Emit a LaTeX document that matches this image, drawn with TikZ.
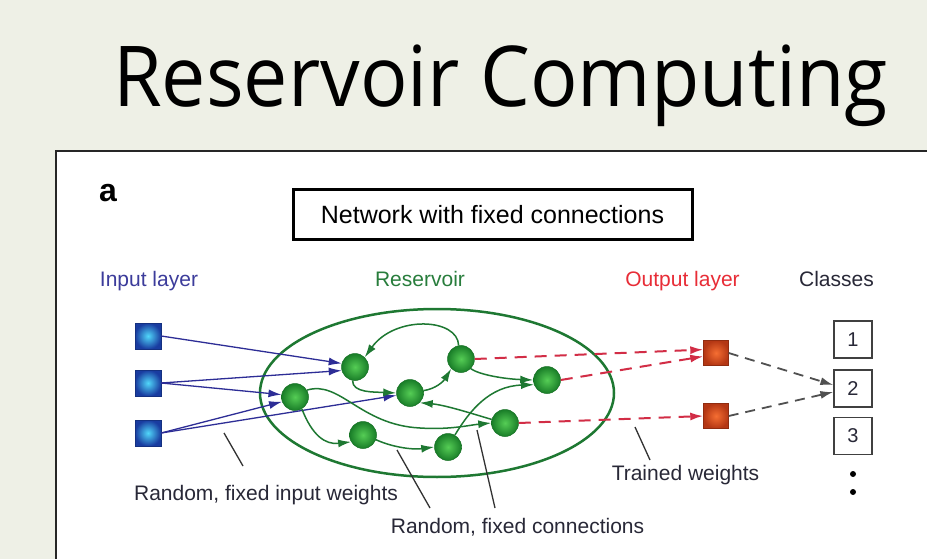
\documentclass[tikz,border=0pt]{standalone}
\usepackage{fontspec}
\setmainfont{Liberation Sans}
\newfontfamily\titlefont{Open Sans}
\usetikzlibrary{arrows.meta,shapes.geometric}
\definecolor{bgc}{RGB}{238,240,230}
\definecolor{inblue}{RGB}{45,45,150}
\definecolor{lblblue}{RGB}{60,60,155}
\definecolor{resgreen}{RGB}{30,120,50}
\definecolor{lblgreen}{RGB}{40,125,60}
\definecolor{outred}{RGB}{210,45,70}
\definecolor{lblred}{RGB}{232,45,55}
\definecolor{darktext}{RGB}{40,40,55}
\definecolor{grayarrow}{RGB}{80,80,80}
\definecolor{ptr}{RGB}{50,50,50}
\definecolor{sqin}{RGB}{80,215,250}
\definecolor{sqout}{RGB}{25,60,160}
\definecolor{balin}{RGB}{85,205,85}
\definecolor{balout}{RGB}{25,125,40}
\definecolor{orin}{RGB}{245,110,50}
\definecolor{orout}{RGB}{180,55,20}
\tikzset{
  lab/.style={font=\fontsize{21}{24}\selectfont, anchor=base},
  insq/.style={rectangle, minimum size=26pt, inner sep=0pt, draw=sqout!80!black, line width=0.4pt, inner color=sqin, outer color=sqout},
  outsq/.style={rectangle, minimum size=25pt, inner sep=0pt, draw=orout!80!black, line width=0.4pt, inner color=orin, outer color=orout},
  rnode/.style={circle, minimum size=27pt, inner sep=0pt, draw=balout!90!black, line width=0.5pt, inner color=balin, outer color=balout},
  clsbox/.style={rectangle, minimum width=38pt, minimum height=37pt, inner sep=0pt, draw=black!75, line width=1.2pt, font=\fontsize{20}{24}\selectfont, text=darktext},
  inarrow/.style={draw=inblue, line width=1.3pt, -{Latex[length=13pt,width=8pt]}},
  garrow/.style={draw=resgreen, line width=1.5pt, -{Latex[length=13pt,width=8pt]}},
  rarrow/.style={draw=outred, line width=2pt, dash pattern=on 12pt off 8pt, -{Latex[length=13pt,width=8pt]}},
  karrow/.style={draw=grayarrow, line width=1.8pt, dash pattern=on 10pt off 7pt, -{Latex[length=13pt,width=8pt]}},
  pointer/.style={draw=ptr, line width=1.3pt},
}
\begin{document}
\begin{tikzpicture}[x=1pt,y=-1pt]
\useasboundingbox (0,0) rectangle (927,559);
\clip (0,0) rectangle (927,559);
\fill[bgc] (0,0) rectangle (927,559);
\draw[line width=2.5pt, draw=black!85, fill=white] (56,151) rectangle (945,575);

% title
\node[anchor=base, inner sep=0pt] (title) at (500.5,107) {\titlefont\fontsize{84}{90}\selectfont\scalebox{0.94}[1]{Reservoir Computing}};

% panel label and header box
\node[anchor=base, inner sep=0pt, font=\bfseries\fontsize{32}{36}\selectfont] (plabel) at (108,201) {a};
\node[rectangle, draw=black, line width=3pt, minimum width=399pt, minimum height=49pt, inner sep=0pt, font=\fontsize{25}{28}\selectfont] (hdr) at (492.5,214.5) {Network with fixed connections};

% column labels
\node[lab, text=lblblue] (linput) at (149,286) {Input layer};
\node[lab, text=lblgreen] (lres) at (420,286) {Reservoir};
\node[lab, text=lblred] (lout) at (682.5,286) {Output layer};
\node[lab, text=darktext] (lcls) at (836.5,286) {Classes};

% reservoir ellipse
\node[ellipse, draw=resgreen, line width=2.5pt, minimum width=354pt, minimum height=168pt, inner sep=0pt] (res) at (437,393) {};

% input nodes
\node[insq] (in1) at (148,336) {};
\node[insq] (in2) at (148,383) {};
\node[insq] (in3) at (148,433) {};

% reservoir nodes
\node[rnode] (n1) at (355,367) {};
\node[rnode] (n2) at (461,359) {};
\node[rnode] (n3) at (547,380) {};
\node[rnode] (n4) at (295,397) {};
\node[rnode] (n5) at (410,393) {};
\node[rnode] (n6) at (505,423) {};
\node[rnode] (n7) at (363,435) {};
\node[rnode] (n8) at (448,447) {};

% output nodes
\node[outsq] (o1) at (716,353) {};
\node[outsq] (o2) at (716,416) {};

% classes
\node[clsbox] (c1) at (853,339.5) {1};
\node[clsbox] (c2) at (853,388.5) {2};
\node[clsbox] (c3) at (853,436) {3};
\fill (853,474) circle (3pt);
\fill (853,492) circle (3pt);

% input weights
\draw[inarrow] (in1.east) -- (n1.165);
\draw[inarrow] (in2.east) -- (n1.195);
\draw[inarrow] (in2.east) -- (n4.170);
\draw[inarrow] (in3.east) -- (n4.200);
\draw[inarrow] (in3.east) -- (n5.190);

% reservoir connections
\draw[garrow] (n2.100) .. controls (458,318) and (395,315) .. (n1.45);
\draw[garrow] (n1.260) .. controls (352,393) and (375,392) .. (n5.west);
\draw[garrow] (n5.10) .. controls (435,389) and (443,382) .. (n2.225);
\draw[garrow] (n2.315) .. controls (480,375) and (505,379) .. (n3.west);
\draw[garrow] (n8.60) .. controls (470,410) and (490,386) .. (n3.200);
\draw[garrow] (n6.165) .. controls (470,413) and (445,405) .. (n5.315);
\draw[garrow] (n4.30) .. controls (340,380) and (360,425) .. (420,428) .. controls (450,430) and (470,425) .. (n6.west);
\draw[garrow] (n4.300) .. controls (312,435) and (325,445) .. (n7.210);
\draw[garrow] (n7.340) .. controls (392,447) and (412,450) .. (n8.west);

% trained weights
\draw[rarrow] (n2.east) -- (o1.165);
\draw[rarrow] (n3.east) -- (o1.195);
\draw[rarrow] (n6.east) -- (o2.west);

% outputs to classes
\draw[karrow] (o1.east) -- (c2.170);
\draw[karrow] (o2.east) -- (c2.190);

% pointer lines
\coordinate (p1a) at (224,433); \coordinate (p1b) at (243,466);
\coordinate (p2a) at (397,450); \coordinate (p2b) at (430,508);
\coordinate (p3a) at (477,430); \coordinate (p3b) at (495,508);
\coordinate (p4a) at (635,427); \coordinate (p4b) at (650,460);
\draw[pointer] (p1a) -- (p1b);
\draw[pointer] (p2a) -- (p2b);
\draw[pointer] (p3a) -- (p3b);
\draw[pointer] (p4a) -- (p4b);

% annotations
\node[lab, text=darktext] (tinw) at (266,500) {Random, fixed input weights};
\node[lab, text=darktext] (tconn) at (517.5,533) {Random, fixed connections};
\node[lab, text=darktext] (ttw) at (685.5,480) {Trained weights};
\end{tikzpicture}
\end{document}
